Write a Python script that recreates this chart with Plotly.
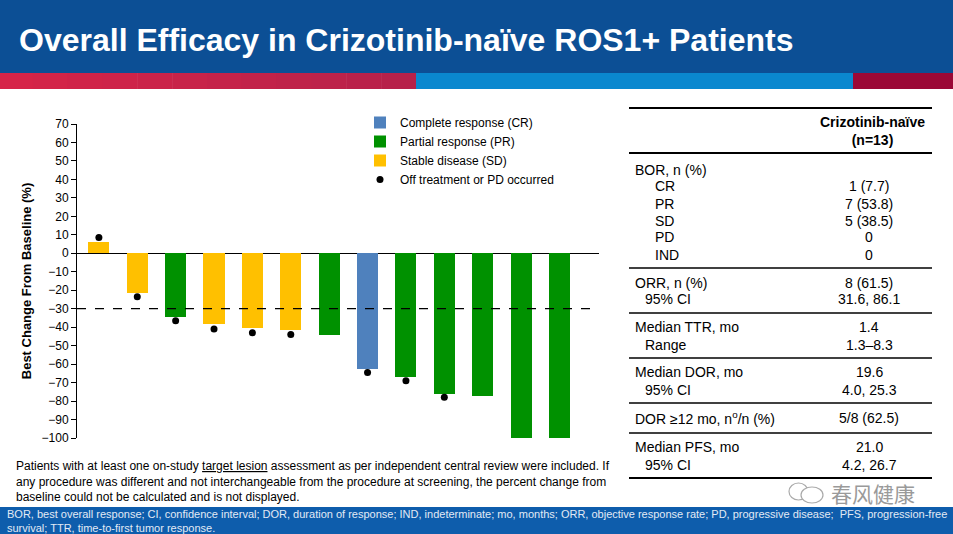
import plotly.graph_objects as go

# ---------------- data ----------------
patients = list(range(1, 14))
best_change = [6, -21.5, -34.5, -38.5, -40.5, -41.5, -44.5, -62.5, -67, -76, -77, -100, -100]
response = ["SD", "SD", "PR", "SD", "SD", "SD", "PR", "CR", "PR", "PR", "PR", "PR", "PR"]
off_patients = [1, 2, 3, 4, 5, 6, 8, 9, 10, 12, 13]
off_values = [8.5, -23.5, -36.5, -41, -43, -44, -64.5, -69, -78, -102, -102]
threshold = -30

resp_names = {"CR": "Complete response (CR)", "PR": "Partial response (PR)", "SD": "Stable disease (SD)"}
resp_colors = {"CR": "#4F81BD", "PR": "#009100", "SD": "#FFC000"}

table_rows = [
    ("BOR, n (%)", "", 0), ("CR", "1 (7.7)", 2), ("PR", "7 (53.8)", 2), ("SD", "5 (38.5)", 2),
    ("PD", "0", 2), ("IND", "0", 2),
    ("ORR, n (%)", "8 (61.5)", 0), ("95% CI", "31.6, 86.1", 1),
    ("Median TTR, mo", "1.4", 0), ("Range", "1.3–8.3", 1),
    ("Median DOR, mo", "19.6", 0), ("95% CI", "4.0, 25.3", 1),
    ("DOR ≥12 mo, n<sup>o</sup>/n (%)", "5/8 (62.5)", 0),
    ("Median PFS, mo", "21.0", 0), ("95% CI", "4.2, 26.7", 1),
]
row_y = [170, 186, 204, 221, 237, 255, 283, 299, 327, 345, 372, 390, 418, 447, 465]
sep_y = [268, 313, 358, 403, 433]

FONT = "Arial, Liberation Sans, sans-serif"

# ---------------- geometry helpers ----------------
PL, PR_, PT, PB = 77, 599, 124, 438
W, H = 953, 534


def px(x):
    return (x - PL) / (PR_ - PL)


def py(y):
    return (PB - y) / (PB - PT)


fig = go.Figure()

for code in ["CR", "PR", "SD"]:
    xs = [p for p, r in zip(patients, response) if r == code]
    ys = [v for v, r in zip(best_change, response) if r == code]
    fig.add_trace(go.Bar(x=xs, y=ys, name=resp_names[code], marker_color=resp_colors[code],
                         marker_line_width=0, width=0.55))

fig.add_trace(go.Scatter(x=off_patients, y=off_values, mode="markers", name="Off treatment or PD occurred",
                         marker=dict(color="black", size=7), cliponaxis=False))

shapes = []
annotations = []

# threshold line
shapes.append(dict(type="line", xref="paper", yref="y", x0=0, x1=1, y0=threshold, y1=threshold,
                   line=dict(color="black", width=1.2, dash="dash")))

# header
shapes.append(dict(type="rect", xref="paper", yref="paper", x0=px(-2), x1=px(W + 2), y0=py(73), y1=py(-2),
                   fillcolor="#0C4F95", line_width=0, layer="below"))
# red gradient stripe
n_steps = 12
c0 = (214, 36, 72)
c1 = (183, 33, 74)
for i in range(n_steps):
    t = i / (n_steps - 1)
    col = "rgb(%d,%d,%d)" % tuple(round(a + (b - a) * t) for a, b in zip(c0, c1))
    x0 = -2 + 418 * i / n_steps
    x1 = -2 + 418 * (i + 1) / n_steps + 0.5
    shapes.append(dict(type="rect", xref="paper", yref="paper", x0=px(x0), x1=px(x1), y0=py(89), y1=py(73),
                       fillcolor=col, line_width=0, layer="below"))
shapes.append(dict(type="rect", xref="paper", yref="paper", x0=px(416), x1=px(853), y0=py(89), y1=py(73),
                   fillcolor="#0A88CF", line_width=0, layer="below"))
shapes.append(dict(type="rect", xref="paper", yref="paper", x0=px(853), x1=px(W + 2), y0=py(89), y1=py(73),
                   fillcolor="#9B0836", line_width=0, layer="below"))
annotations.append(dict(xref="paper", yref="paper", x=px(17), y=py(40), xanchor="left", yanchor="middle",
                        text="<b>Overall Efficacy in Crizotinib-naïve ROS1+ Patients</b>", showarrow=False,
                        font=dict(family=FONT, size=32, color="white")))

# bottom band
shapes.append(dict(type="rect", xref="paper", yref="paper", x0=px(-2), x1=px(W + 2), y0=py(H + 2), y1=py(507),
                   fillcolor="#0E5DAC", line_width=0, layer="below"))
annotations.append(dict(xref="paper", yref="paper", x=px(5), y=py(521), xanchor="left", yanchor="middle",
                        align="left", showarrow=False,
                        text="BOR, best overall response; CI, confidence interval; DOR, duration of response; IND, indeterminate; mo, months; ORR, objective response rate; PD, progressive disease;  PFS, progression-free<br>survival; TTR, time-to-first tumor response.",
                        font=dict(family=FONT, size=11, color="#E2EAF5")))

# footnote
annotations.append(dict(xref="paper", yref="paper", x=px(14), y=py(481), xanchor="left", yanchor="middle",
                        align="left", showarrow=False,
                        text="Patients with at least one on-study <span style='text-decoration:underline'>target lesion</span> assessment as per independent central review were included. If<br>any procedure was different and not interchangeable from the procedure at screening, the percent change from<br>baseline could not be calculated and is not displayed.",
                        font=dict(family=FONT, size=12, color="black")))

# table
TL, TR = 629, 932
shapes.append(dict(type="line", xref="paper", yref="paper", x0=px(TL), x1=px(TR), y0=py(108), y1=py(108),
                   line=dict(color="black", width=2)))
shapes.append(dict(type="line", xref="paper", yref="paper", x0=px(TL), x1=px(TR), y0=py(153), y1=py(153),
                   line=dict(color="black", width=2)))
for sy in sep_y:
    shapes.append(dict(type="line", xref="paper", yref="paper", x0=px(TL), x1=px(TR), y0=py(sy), y1=py(sy),
                       line=dict(color="black", width=1.3)))
shapes.append(dict(type="line", xref="paper", yref="paper", x0=px(TL), x1=px(TR), y0=py(478), y1=py(478),
                   line=dict(color="black", width=2)))
annotations.append(dict(xref="paper", yref="paper", x=px(872), y=py(131), xanchor="center", yanchor="middle",
                        text="<b>Crizotinib-naïve<br>(n=13)</b>", showarrow=False, align="center",
                        font=dict(family=FONT, size=14, color="black")))
indent_px = {0: 633, 1: 643, 2: 653}
for (label, val, ind), ry in zip(table_rows, row_y):
    annotations.append(dict(xref="paper", yref="paper", x=px(indent_px[ind]), y=py(ry), xanchor="left",
                            yanchor="middle", text=label, showarrow=False,
                            font=dict(family=FONT, size=14, color="black")))
    if val:
        annotations.append(dict(xref="paper", yref="paper", x=px(869), y=py(ry), xanchor="center",
                                yanchor="middle", text=val, showarrow=False,
                                font=dict(family=FONT, size=14, color="black")))

# watermark
shapes.append(dict(type="circle", xref="paper", yref="paper", x0=px(789), x1=px(808), y0=py(500), y1=py(483),
                   line=dict(color="#AAAAAA", width=1.2), fillcolor="rgba(255,255,255,0.9)"))
shapes.append(dict(type="circle", xref="paper", yref="paper", x0=px(801), x1=px(823), y0=py(503), y1=py(487),
                   line=dict(color="#AAAAAA", width=1.2), fillcolor="white"))
annotations.append(dict(xref="paper", yref="paper", x=px(829), y=py(493), xanchor="left", yanchor="middle",
                        text="春风健康", showarrow=False,
                        font=dict(family="Noto Sans CJK SC", size=21, color="#9A9A9A")))

fig.update_layout(
    width=W, height=H, autosize=False,
    margin=dict(l=PL, r=W - PR_, t=PT, b=H - PB, pad=0),
    paper_bgcolor="white", plot_bgcolor="white",
    barmode="overlay", bargap=0,
    font=dict(family=FONT, size=12, color="black"),
    showlegend=True,
    legend=dict(x=px(360), y=py(108), xanchor="left", yanchor="top", bgcolor="rgba(0,0,0,0)",
                font=dict(family=FONT, size=12, color="black"), traceorder="normal",
                itemclick=False, itemdoubleclick=False),
    xaxis=dict(range=[0.43, 14.03], visible=False, fixedrange=True),
    yaxis=dict(range=[-100, 70], dtick=10, tick0=0, showline=True, linecolor="black", linewidth=1,
               ticks="outside", ticklen=5, tickcolor="black", tickwidth=1, showgrid=False,
               zeroline=True, zerolinecolor="black", zerolinewidth=1.2,
               tickfont=dict(family=FONT, size=12, color="black"),
               title=dict(text="<b>Best Change From Baseline (%)</b>", standoff=7,
                          font=dict(family=FONT, size=13, color="black")),
               fixedrange=True),
    shapes=shapes,
    annotations=annotations,
)

fig.write_html("out.html", config={"displayModeBar": False},
               post_script="document.body.style.margin='0';document.body.style.overflow='hidden';")
